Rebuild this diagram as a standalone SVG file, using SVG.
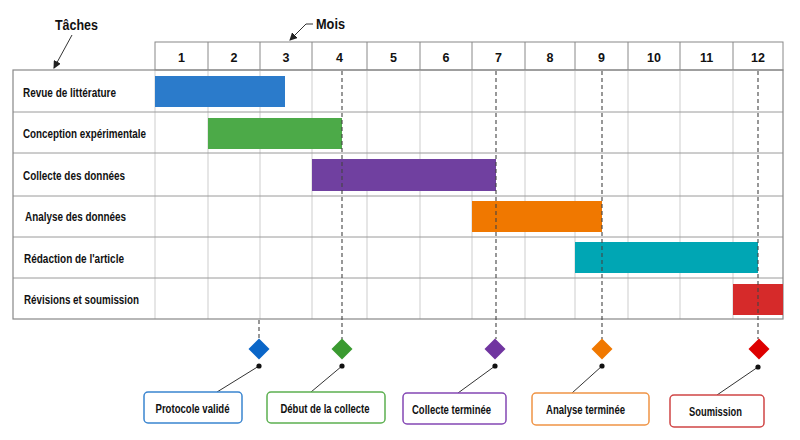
<svg xmlns="http://www.w3.org/2000/svg" width="800" height="440" viewBox="0 0 800 440">
<defs>
<marker id="arr" markerWidth="8" markerHeight="8" refX="7" refY="4" orient="auto" markerUnits="userSpaceOnUse">
<path d="M0,0 L8,4 L0,8 Z" fill="#222"/>
</marker>
<style>
text{font-family:"Liberation Sans",Arial,sans-serif;fill:#111;}
.hd{font-size:15px;font-weight:bold;}
.num{font-size:12.5px;font-weight:bold;text-anchor:middle;}
.task{font-size:12.5px;font-weight:bold;}
.lbl{font-size:12.5px;font-weight:bold;}
.vg{stroke:#cdcdcd;stroke-width:1;}
.hg{stroke:#9a9a9a;stroke-width:1;}
.dash{stroke:#444;stroke-width:1.1;stroke-dasharray:4 3;fill:none;}
.lead{stroke:#333;stroke-width:1;fill:none;}
.box{fill:#fff;stroke-width:1.5;}
</style>
</defs>
<rect width="800" height="440" fill="#fff"/>

<g id="grid">
<rect x="155" y="42" width="628" height="28" fill="#fff" stroke="#888" stroke-width="1"/>
<g stroke="#888" stroke-width="1">
<line x1="208" y1="42" x2="208" y2="70"/><line x1="260" y1="42" x2="260" y2="70"/>
<line x1="312" y1="42" x2="312" y2="70"/><line x1="367" y1="42" x2="367" y2="70"/>
<line x1="420" y1="42" x2="420" y2="70"/><line x1="472" y1="42" x2="472" y2="70"/>
<line x1="525" y1="42" x2="525" y2="70"/><line x1="575" y1="42" x2="575" y2="70"/>
<line x1="628" y1="42" x2="628" y2="70"/><line x1="680" y1="42" x2="680" y2="70"/>
<line x1="733" y1="42" x2="733" y2="70"/>
</g>
<g class="vg">
<line x1="155" y1="70" x2="155" y2="319"/><line x1="208" y1="70" x2="208" y2="319"/>
<line x1="260" y1="70" x2="260" y2="319"/><line x1="312" y1="70" x2="312" y2="319"/>
<line x1="367" y1="70" x2="367" y2="319"/><line x1="420" y1="70" x2="420" y2="319"/>
<line x1="472" y1="70" x2="472" y2="319"/><line x1="525" y1="70" x2="525" y2="319"/>
<line x1="575" y1="70" x2="575" y2="319"/><line x1="628" y1="70" x2="628" y2="319"/>
<line x1="680" y1="70" x2="680" y2="319"/><line x1="733" y1="70" x2="733" y2="319"/>
</g>
<g class="hg">
<line x1="13" y1="112" x2="783" y2="112"/><line x1="13" y1="153" x2="783" y2="153"/>
<line x1="13" y1="196" x2="783" y2="196"/><line x1="13" y1="237" x2="783" y2="237"/>
<line x1="13" y1="278" x2="783" y2="278"/>
</g>
<rect x="13" y="70" width="770" height="249" fill="none" stroke="#888" stroke-width="1.2"/>
<g>
<text class="num" x="181.5" y="62">1</text><text class="num" x="234" y="62">2</text>
<text class="num" x="286" y="62">3</text><text class="num" x="339.5" y="62">4</text>
<text class="num" x="393.5" y="62">5</text><text class="num" x="446" y="62">6</text>
<text class="num" x="498.5" y="62">7</text><text class="num" x="550" y="62">8</text>
<text class="num" x="601.5" y="62">9</text><text class="num" x="654" y="62">10</text>
<text class="num" x="706.5" y="62">11</text><text class="num" x="758" y="62">12</text>
</g>
</g>

<g id="headers">
<text class="hd" x="55" y="30" textLength="43" lengthAdjust="spacingAndGlyphs">Tâches</text>
<text class="hd" x="316" y="29" textLength="29" lengthAdjust="spacingAndGlyphs">Mois</text>
</g>

<g id="tasks">
<g id="t1"><text class="task" x="23" y="97" textLength="93" lengthAdjust="spacingAndGlyphs">Revue de littérature</text><rect x="155" y="76" width="130" height="31" fill="#2b7bcb"/></g>
<g id="t2"><text class="task" x="23" y="138" textLength="123" lengthAdjust="spacingAndGlyphs">Conception expérimentale</text><rect x="208" y="118" width="134" height="31" fill="#4caa48"/></g>
<g id="t3"><text class="task" x="23" y="180" textLength="102" lengthAdjust="spacingAndGlyphs">Collecte des données</text><rect x="312" y="159" width="184" height="32" fill="#7040a0"/></g>
<g id="t4"><text class="task" x="25" y="221" textLength="101" lengthAdjust="spacingAndGlyphs">Analyse des données</text><rect x="472" y="201" width="130" height="31" fill="#f07800"/></g>
<g id="t5"><text class="task" x="24" y="263" textLength="100" lengthAdjust="spacingAndGlyphs">Rédaction de l'article</text><rect x="575" y="242" width="183" height="31" fill="#00a6b4"/></g>
<g id="t6"><text class="task" x="24" y="304" textLength="115" lengthAdjust="spacingAndGlyphs">Révisions et soumission</text><rect x="733" y="284" width="50" height="31" fill="#d62a2a"/></g>
</g>

<g id="connectors">
<path class="lead" d="M72,35 L54,68" marker-end="url(#arr)" stroke="#222"/>
<path class="lead" d="M313,24 L306,24 L290,40" marker-end="url(#arr)" stroke="#222"/>
<line class="dash" x1="259" y1="320" x2="259" y2="339"/>
<line class="dash" x1="342" y1="71" x2="342" y2="339"/>
<line class="dash" x1="496" y1="71" x2="496" y2="339"/>
<line class="dash" x1="602" y1="71" x2="602" y2="339"/>
<line class="dash" x1="758" y1="71" x2="758" y2="339"/>
<line class="lead" x1="259" y1="366" x2="217" y2="392"/>
<line class="lead" x1="342" y1="366" x2="311" y2="392"/>
<line class="lead" x1="495" y1="366" x2="458" y2="393"/>
<line class="lead" x1="602" y1="366" x2="572" y2="393"/>
<line class="lead" x1="758" y1="367" x2="717" y2="395"/>
</g>

<g id="m1"><path d="M259,338.5 L269.5,349 L259,359.5 L248.5,349 Z" fill="#0a66c8"/><circle cx="259" cy="366" r="2.6" fill="#111"/>
<rect class="box" x="144" y="392" width="98" height="31" rx="4" stroke="#3a85d0"/>
<text class="lbl" x="192.5" y="413" text-anchor="middle" textLength="74" lengthAdjust="spacingAndGlyphs">Protocole validé</text></g>
<g id="m2"><path d="M342,338.5 L352.5,349 L342,359.5 L331.5,349 Z" fill="#3a9a30"/><circle cx="342" cy="366" r="2.6" fill="#111"/>
<rect class="box" x="267" y="392" width="118" height="31" rx="4" stroke="#5cb050"/>
<text class="lbl" x="325" y="413" text-anchor="middle" textLength="89" lengthAdjust="spacingAndGlyphs">Début de la collecte</text></g>
<g id="m3"><path d="M495,338.5 L505.5,349 L495,359.5 L484.5,349 Z" fill="#7035a0"/><circle cx="495" cy="366" r="2.6" fill="#111"/>
<rect class="box" x="403" y="393" width="103" height="31" rx="4" stroke="#8447b4"/>
<text class="lbl" x="451.5" y="414" text-anchor="middle" textLength="79" lengthAdjust="spacingAndGlyphs">Collecte terminée</text></g>
<g id="m4"><path d="M602,338.5 L612.5,349 L602,359.5 L591.5,349 Z" fill="#f07800"/><circle cx="602" cy="366" r="2.6" fill="#111"/>
<rect class="box" x="532" y="393" width="117" height="32" rx="4" stroke="#f09445"/>
<text class="lbl" x="585.5" y="414" text-anchor="middle" textLength="79" lengthAdjust="spacingAndGlyphs">Analyse terminée</text></g>
<g id="m5"><path d="M759,338.5 L769.5,349 L759,359.5 L748.5,349 Z" fill="#dd0000"/><circle cx="758" cy="367" r="2.6" fill="#111"/>
<rect class="box" x="670" y="395" width="94" height="32" rx="4" stroke="#d04545"/>
<text class="lbl" x="715.5" y="416" text-anchor="middle" textLength="53" lengthAdjust="spacingAndGlyphs">Soumission</text></g>
</svg>
